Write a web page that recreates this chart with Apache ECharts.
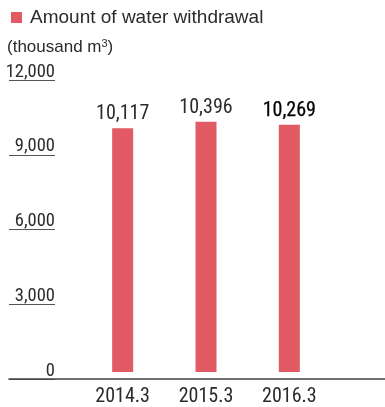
<!DOCTYPE html>
<html>
<head>
<meta charset="utf-8">
<script src="https://cdn.jsdelivr.net/npm/echarts@6/dist/echarts.min.js"></script>
<style>html,body{margin:0;padding:0;background:#fff}#c{width:385px;height:407px}</style>
</head>
<body>
<div id="c"></div>
<script>
const categories = ['2014.3', '2015.3', '2016.3'];
const waterWithdrawal = [10117, 10396, 10269];
const seriesName = 'Amount of water withdrawal';
const unitLabel = '(thousand m{sup|3})';
const yTicks = [0, 3000, 6000, 9000, 12000];

const NARROW = '"Liberation Sans Narrow", "Roboto Condensed", "Arial Narrow", sans-serif';
const SANS = '"Liberation Sans", Arial, Helvetica, sans-serif';
const BAR = '#e15a64';
const TXT = '#2b2b2b';

const chart = echarts.init(document.getElementById('c'), null, {renderer: 'canvas'});
chart.setOption({
  animation: false,
  backgroundColor: '#fff',
  title: {
    text: unitLabel,
    left: 7, top: 38, padding: 0,
    textStyle: {
      fontFamily: SANS, fontSize: 17, fontWeight: 'normal', color: TXT,
      rich: { sup: { fontFamily: SANS, fontSize: 11, color: TXT, padding: [0, 0, 8, 0] } }
    }
  },
  legend: {
    data: [seriesName],
    left: 11, top: 8, padding: 0,
    icon: 'rect', itemWidth: 11, itemHeight: 11,
    textStyle: { fontFamily: SANS, fontSize: 19, color: TXT, padding: [0, 0, 0, 3] }
  },
  grid: [
    { left: 81, width: 250, top: 83, height: 296 },
    { left: 9, width: 46, top: 80, height: 299 },
    { left: 9, right: 0, top: 80, height: 299 }
  ],
  xAxis: [
    {
      type: 'category', gridIndex: 0, data: categories,
      axisLine: { show: false }, axisTick: { show: false },
      axisLabel: { fontFamily: NARROW, fontSize: 20, color: TXT, margin: 15 }
    },
    { type: 'value', gridIndex: 1, show: false },
    {
      type: 'value', gridIndex: 2, min: 0, max: 1,
      axisLine: { show: true, onZero: false, lineStyle: { color: '#444', width: 1.6 } },
      axisTick: { show: false }, axisLabel: { show: false }, splitLine: { show: false }
    }
  ],
  yAxis: [
    { type: 'value', gridIndex: 0, min: 0, max: 12000, show: false },
    {
      type: 'value', gridIndex: 1, min: 0, max: 12000, interval: 3000, position: 'right',
      axisLine: { show: false }, axisTick: { show: false },
      axisLabel: {
        inside: true, margin: 0, verticalAlign: 'bottom', lineHeight: 16,
        fontFamily: NARROW, fontSize: 18.5, color: TXT,
        formatter: v => v.toLocaleString('en-US')
      },
      splitLine: { show: true, lineStyle: { color: '#555', width: 1 } }
    },
    { type: 'value', gridIndex: 2, min: 0, max: 1, show: false }
  ],
  series: [{
    name: seriesName, type: 'bar', xAxisIndex: 0, yAxisIndex: 0,
    data: waterWithdrawal.map((v, i) => {
      const last = i === waterWithdrawal.length - 1;
      return {
        value: v,
        label: last ? { color: '#000', textBorderColor: '#000', textBorderWidth: 0.25 } : {}
      };
    }),
    barWidth: 21,
    itemStyle: { color: BAR },
    label: {
      show: true, position: 'top', distance: 4,
      fontFamily: NARROW, fontSize: 20, color: TXT,
      formatter: p => p.value.toLocaleString('en-US')
    }
  }]
});
</script>
</body>
</html>
